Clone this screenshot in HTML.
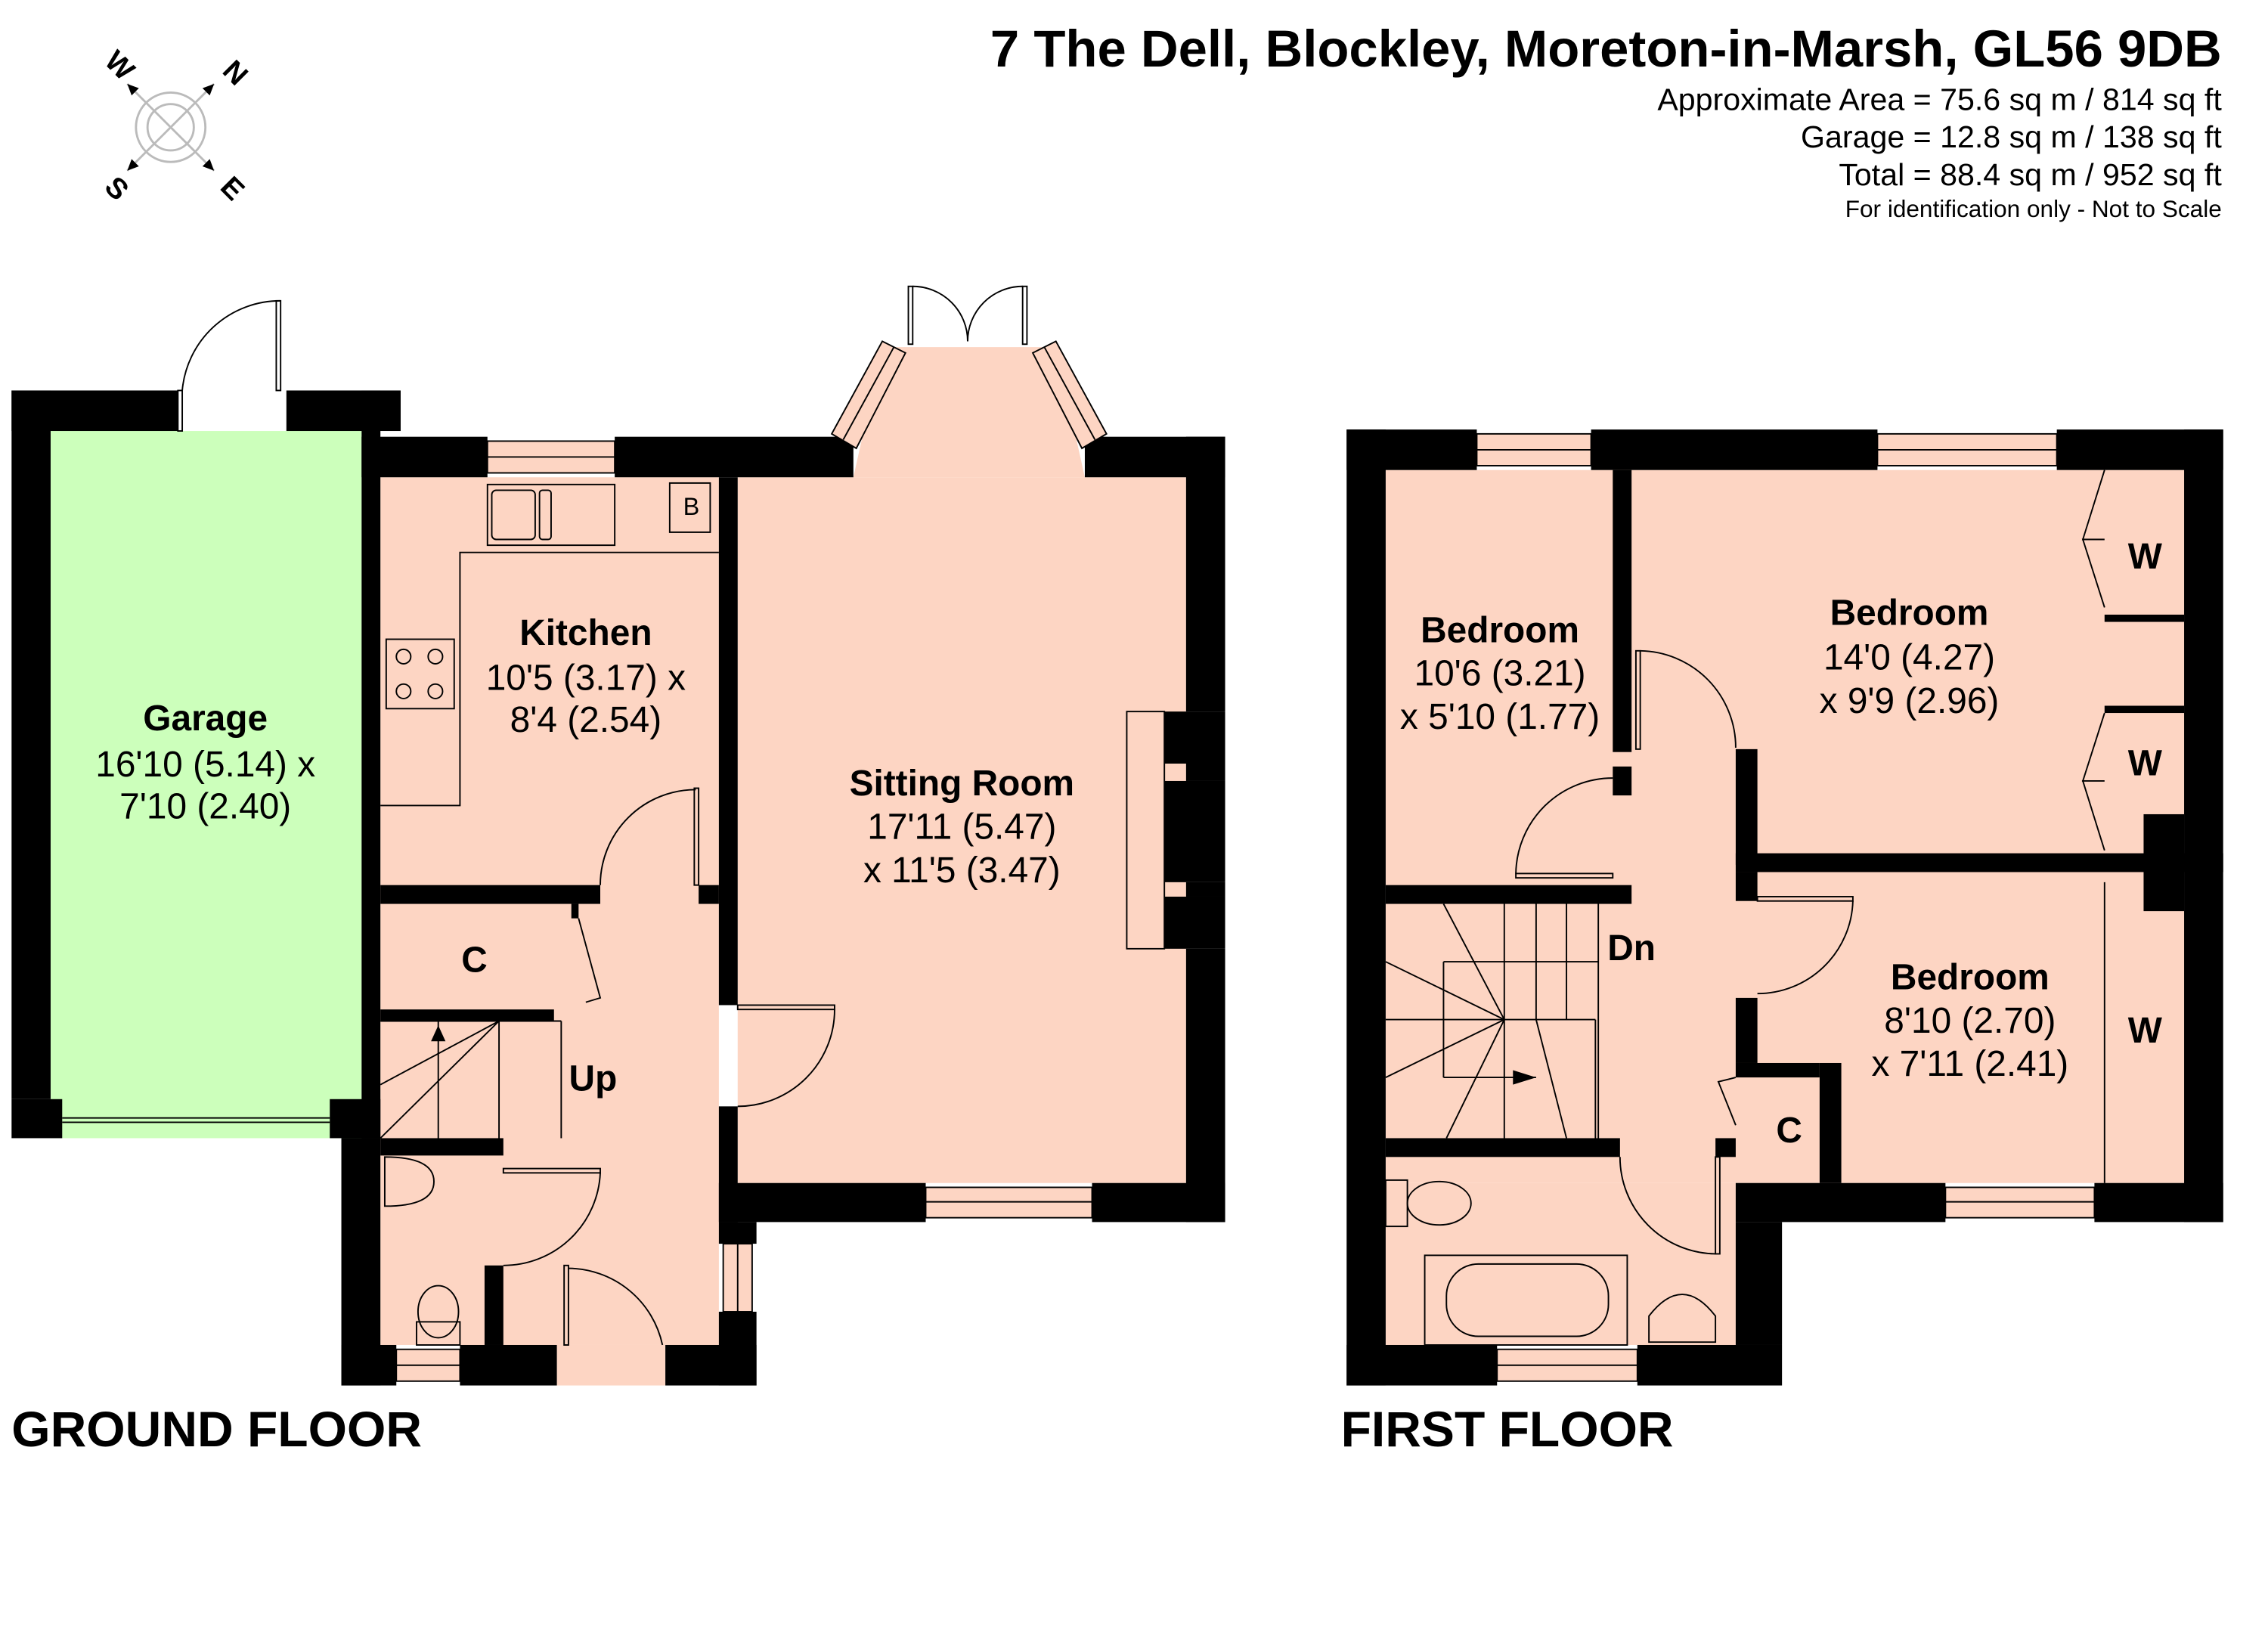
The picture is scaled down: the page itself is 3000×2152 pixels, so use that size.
<!DOCTYPE html>
<html><head><meta charset="utf-8"><style>
html,body{margin:0;padding:0;background:#fff;}
svg{display:block;}
text{font-family:"Liberation Sans",Arial,sans-serif;fill:#000;}
.b{font-weight:bold;}
</style></head><body>
<svg width="3000" height="2152" viewBox="0 0 1568 1125" preserveAspectRatio="none" xmlns="http://www.w3.org/2000/svg">
<text x="1536" y="46" text-anchor="end" class="b" font-size="36">7 The Dell, Blockley, Moreton-in-Marsh, GL56 9DB</text>
<text x="1536" y="76" text-anchor="end" font-size="21.5">Approximate Area = 75.6 sq m / 814 sq ft</text>
<text x="1536" y="102" text-anchor="end" font-size="21.5">Garage = 12.8 sq m / 138 sq ft</text>
<text x="1536" y="128" text-anchor="end" font-size="21.5">Total = 88.4 sq m / 952 sq ft</text>
<text x="1536" y="150" text-anchor="end" font-size="16.5">For identification only - Not to Scale</text>

<g transform="translate(118,88)" stroke="#bbb" fill="none" stroke-width="1.5">
<circle r="24"/><circle r="16"/>
<line x1="-30" y1="-30" x2="30" y2="30"/><line x1="30" y1="-30" x2="-30" y2="30"/>
</g>
<g transform="translate(118,88)">
<polygon points="-30,-30 -22,-27 -27,-22" fill="#000"/>
<polygon points="30,-30 22,-27 27,-22" fill="#000"/>
<polygon points="30,30 22,27 27,22" fill="#000"/>
<polygon points="-30,30 -22,27 -27,22" fill="#000"/>
<text x="-40" y="-38" class="b" font-size="20" transform="rotate(45,-40,-38)" text-anchor="middle">W</text>
<text x="40" y="-33" class="b" font-size="20" transform="rotate(45,40,-33)" text-anchor="middle">N</text>
<text x="-42" y="47" class="b" font-size="20" transform="rotate(45,-42,47)" text-anchor="middle">S</text>
<text x="38" y="47" class="b" font-size="20" transform="rotate(45,38,47)" text-anchor="middle">E</text>
</g>

<rect x="35" y="298" width="215" height="489" fill="#ccffbb"/>
<g fill="#fdd5c3">
<rect x="263" y="330" width="234" height="600"/>
<rect x="510" y="330" width="310" height="488"/>
<polygon points="590,330 610,240 730,240 750,330"/>
<rect x="385" y="930" width="75" height="28"/>
</g>
<g fill="#000">
<rect x="8" y="270" width="115" height="28"/>
<rect x="198" y="270" width="79" height="28"/>
<rect x="8" y="270" width="27" height="490"/>
<rect x="250" y="270" width="13" height="517"/>
<rect x="8" y="760" width="35" height="27"/>
<rect x="228" y="760" width="35" height="27"/>
<rect x="250" y="302" width="87" height="28"/>
<rect x="425" y="302" width="165" height="28"/>
<rect x="750" y="302" width="97" height="28"/>
<rect x="820" y="302" width="27" height="190"/>
<rect x="805" y="492" width="42" height="36"/>
<rect x="820" y="528" width="27" height="12"/>
<rect x="805" y="540" width="42" height="70"/>
<rect x="820" y="610" width="27" height="10"/>
<rect x="805" y="620" width="42" height="36"/>
<rect x="820" y="656" width="27" height="189"/>
<rect x="497" y="818" width="143" height="27"/>
<rect x="755" y="818" width="92" height="27"/>
<rect x="497" y="330" width="13" height="365"/>
<rect x="497" y="765" width="13" height="80"/>
<rect x="497" y="845" width="26" height="15"/>
<rect x="497" y="907" width="26" height="51"/>
<rect x="263" y="612" width="152" height="13"/>
<rect x="483" y="612" width="14" height="13"/>
<rect x="263" y="698" width="120" height="8"/>
<rect x="395" y="625" width="5" height="10"/>
<rect x="236" y="787" width="27" height="171"/>
<rect x="263" y="787" width="85" height="12"/>
<rect x="335" y="875" width="13" height="55"/>
<rect x="236" y="930" width="38" height="28"/>
<rect x="318" y="930" width="67" height="28"/>
<rect x="460" y="930" width="63" height="28"/>
</g>
<g fill="#fdd5c3" stroke="#000" stroke-width="1">
<rect x="337" y="305" width="88" height="22"/>
<rect x="640" y="821" width="115" height="21"/>
<rect x="274" y="933" width="44" height="22"/>
<rect x="500" y="860" width="20" height="47"/>
</g>
<g stroke="#000" stroke-width="1" fill="none">
<line x1="337" y1="316" x2="425" y2="316"/><line x1="640" y1="831" x2="755" y2="831"/>
<line x1="274" y1="944" x2="318" y2="944"/><line x1="510" y1="860" x2="510" y2="907"/>
<polygon points="575,300 610,236 626,244 592,310" fill="#fdd5c3"/>
<polygon points="765,300 730,236 714,244 748,310" fill="#fdd5c3"/>
<line x1="583" y1="304" x2="618" y2="240"/><line x1="757" y1="304" x2="722" y2="240"/>
<rect x="628" y="198" width="3" height="40"/><rect x="707" y="198" width="3" height="40"/>
<path d="M631,198 A38,38 0 0 1 669,236"/><path d="M707,198 A38,38 0 0 0 669,236"/>
<rect x="123" y="270" width="3" height="28"/><rect x="191" y="208" width="3" height="62"/>
<path d="M126,270 A68,68 0 0 1 194,208"/>
<line x1="43" y1="773" x2="228" y2="773"/><line x1="43" y1="776" x2="228" y2="776"/>
<path d="M263,557 L318,557 L318,382 L497,382"/>
<rect x="337" y="335" width="88" height="42"/><rect x="340" y="339" width="30" height="34" rx="3"/><rect x="373" y="339" width="8" height="34" rx="2"/>
<rect x="463" y="334" width="28" height="34"/>
<rect x="267" y="442" width="47" height="48"/>
<circle cx="279" cy="454" r="5"/><circle cx="301" cy="454" r="5"/><circle cx="279" cy="478" r="5"/><circle cx="301" cy="478" r="5"/>
<rect x="480" y="545" width="3" height="67"/>
<path d="M415,612 A66,66 0 0 1 481,546"/>
<rect x="510" y="695" width="67" height="3"/>
<path d="M577,698 A67,67 0 0 1 510,765"/>
<rect x="779" y="492" width="26" height="164"/>
<path d="M400,635 L415,690 L405,693"/>
<line x1="263" y1="706" x2="388" y2="706"/><line x1="388" y1="706" x2="388" y2="787"/>
<line x1="263" y1="750" x2="345" y2="706"/><line x1="303" y1="706" x2="303" y2="787"/>
<line x1="345" y1="706" x2="345" y2="787"/><line x1="263" y1="787" x2="345" y2="706"/>
<rect x="348" y="808" width="67" height="3"/>
<path d="M415,811 A67,67 0 0 1 348,875"/>
<rect x="390" y="875" width="3" height="55"/>
<path d="M393,877 A67,67 0 0 1 458,930"/>
<path d="M266,800 L266,834 Q300,834 300,817 Q300,800 266,800Z"/>
<rect x="288" y="914" width="30" height="16"/><ellipse cx="303" cy="907" rx="14" ry="18"/>
</g>
<polygon points="303,709 298,720 308,720" fill="#000"/>

<text x="142" y="505" text-anchor="middle" class="b" font-size="25">Garage</text>
<text x="142" y="537" text-anchor="middle" font-size="25">16'10 (5.14) x</text>
<text x="142" y="566" text-anchor="middle" font-size="25">7'10 (2.40)</text>
<text x="405" y="446" text-anchor="middle" class="b" font-size="25">Kitchen</text>
<text x="405" y="477" text-anchor="middle" font-size="25">10'5 (3.17) x</text>
<text x="405" y="506" text-anchor="middle" font-size="25">8'4 (2.54)</text>
<text x="478" y="356" text-anchor="middle" font-size="17">B</text>
<text x="665" y="550" text-anchor="middle" class="b" font-size="25">Sitting Room</text>
<text x="665" y="580" text-anchor="middle" font-size="25">17'11 (5.47)</text>
<text x="665" y="610" text-anchor="middle" font-size="25">x 11'5 (3.47)</text>
<text x="328" y="672" text-anchor="middle" class="b" font-size="25">C</text>
<text x="410" y="754" text-anchor="middle" class="b" font-size="25">Up</text>
<text x="8" y="1000" class="b" font-size="34.5">GROUND FLOOR</text>

<rect x="958" y="325" width="552" height="493" fill="#fdd5c3"/>
<rect x="958" y="818" width="242" height="112" fill="#fdd5c3"/>
<g fill="#000">
<rect x="931" y="297" width="90" height="28"/>
<rect x="1100" y="297" width="198" height="28"/>
<rect x="1422" y="297" width="115" height="28"/>
<rect x="1510" y="297" width="27" height="548"/>
<rect x="931" y="297" width="27" height="661"/>
<rect x="931" y="930" width="104" height="28"/>
<rect x="1132" y="930" width="100" height="28"/>
<rect x="1200" y="845" width="32" height="85"/>
<rect x="1200" y="818" width="145" height="27"/>
<rect x="1448" y="818" width="89" height="27"/>
<rect x="1115" y="325" width="13" height="195"/>
<rect x="1115" y="530" width="13" height="20"/>
<rect x="958" y="612" width="170" height="13"/>
<rect x="958" y="787" width="162" height="13"/>
<rect x="1186" y="787" width="14" height="13"/>
<rect x="1200" y="518" width="15" height="80"/>
<rect x="1200" y="590" width="337" height="13"/>
<rect x="1200" y="603" width="15" height="20"/>
<rect x="1200" y="690" width="15" height="45"/>
<rect x="1200" y="735" width="58" height="10"/>
<rect x="1258" y="735" width="15" height="83"/>
<rect x="1482" y="563" width="28" height="67"/>
<rect x="1455" y="425" width="55" height="5"/>
<rect x="1455" y="488" width="55" height="5"/>
</g>
<g fill="#fdd5c3" stroke="#000" stroke-width="1">
<rect x="1021" y="300" width="79" height="22"/>
<rect x="1298" y="300" width="124" height="22"/>
<rect x="1345" y="821" width="103" height="21"/>
<rect x="1035" y="933" width="97" height="22"/>
</g>
<g stroke="#000" stroke-width="1" fill="none">
<line x1="1021" y1="311" x2="1100" y2="311"/><line x1="1298" y1="311" x2="1422" y2="311"/>
<line x1="1345" y1="831" x2="1448" y2="831"/><line x1="1035" y1="944" x2="1132" y2="944"/>
<path d="M1455,325 L1440,373 L1455,373 L1440,373 L1455,420"/>
<path d="M1455,493 L1440,540 L1455,540 L1440,540 L1455,588"/>
<line x1="1455" y1="610" x2="1455" y2="818"/>
<rect x="1131" y="450" width="3" height="68"/>
<path d="M1134,450 A67,67 0 0 1 1200,517"/>
<rect x="1048" y="604" width="67" height="3"/>
<path d="M1048,604 A67,67 0 0 1 1115,538"/>
<rect x="1215" y="620" width="66" height="3"/>
<path d="M1281,623 A66,66 0 0 1 1215,687"/>
<path d="M1200,745 L1188,748 L1200,778"/>
<rect x="1186" y="800" width="3" height="67"/>
<path d="M1186,867 A67,67 0 0 1 1120,800"/>
<line x1="1105" y1="625" x2="1105" y2="787"/><line x1="1040" y1="625" x2="1040" y2="787"/>
<line x1="1062" y1="625" x2="1062" y2="705"/><line x1="1083" y1="625" x2="1083" y2="705"/>
<line x1="1040" y1="705" x2="1103" y2="705"/><line x1="1103" y1="705" x2="1103" y2="787"/>
<line x1="998" y1="665" x2="1105" y2="665"/><line x1="998" y1="665" x2="998" y2="745"/>
<line x1="998" y1="745" x2="1062" y2="745"/>
<line x1="958" y1="705" x2="1040" y2="705"/>
<line x1="1040" y1="705" x2="958" y2="665"/><line x1="1040" y1="705" x2="958" y2="745"/>
<line x1="1040" y1="705" x2="998" y2="625"/><line x1="1040" y1="705" x2="1000" y2="787"/>
<line x1="1062" y1="705" x2="1083" y2="787"/>
<rect x="985" y="868" width="140" height="62"/>
<rect x="1000" y="874" width="112" height="50" rx="22"/>
<rect x="958" y="816" width="15" height="32"/><ellipse cx="995" cy="832" rx="22" ry="15"/>
<path d="M1140,928 L1140,910 Q1163,880 1186,910 L1186,928Z"/>
</g>
<polygon points="1046,740 1062,745 1046,750" fill="#000"/>

<text x="1037" y="444" text-anchor="middle" class="b" font-size="25">Bedroom</text>
<text x="1037" y="474" text-anchor="middle" font-size="25">10'6 (3.21)</text>
<text x="1037" y="504" text-anchor="middle" font-size="25">x 5'10 (1.77)</text>
<text x="1320" y="432" text-anchor="middle" class="b" font-size="25">Bedroom</text>
<text x="1320" y="463" text-anchor="middle" font-size="25">14'0 (4.27)</text>
<text x="1320" y="493" text-anchor="middle" font-size="25">x 9'9 (2.96)</text>
<text x="1362" y="684" text-anchor="middle" class="b" font-size="25">Bedroom</text>
<text x="1362" y="714" text-anchor="middle" font-size="25">8'10 (2.70)</text>
<text x="1362" y="744" text-anchor="middle" font-size="25">x 7'11 (2.41)</text>
<text x="1483" y="393" text-anchor="middle" class="b" font-size="25">W</text>
<text x="1483" y="536" text-anchor="middle" class="b" font-size="25">W</text>
<text x="1483" y="721" text-anchor="middle" class="b" font-size="25">W</text>
<text x="1128" y="664" text-anchor="middle" class="b" font-size="25">Dn</text>
<text x="1237" y="790" text-anchor="middle" class="b" font-size="25">C</text>
<text x="927" y="1000" class="b" font-size="34.5">FIRST FLOOR</text>
</svg>
</body></html>
